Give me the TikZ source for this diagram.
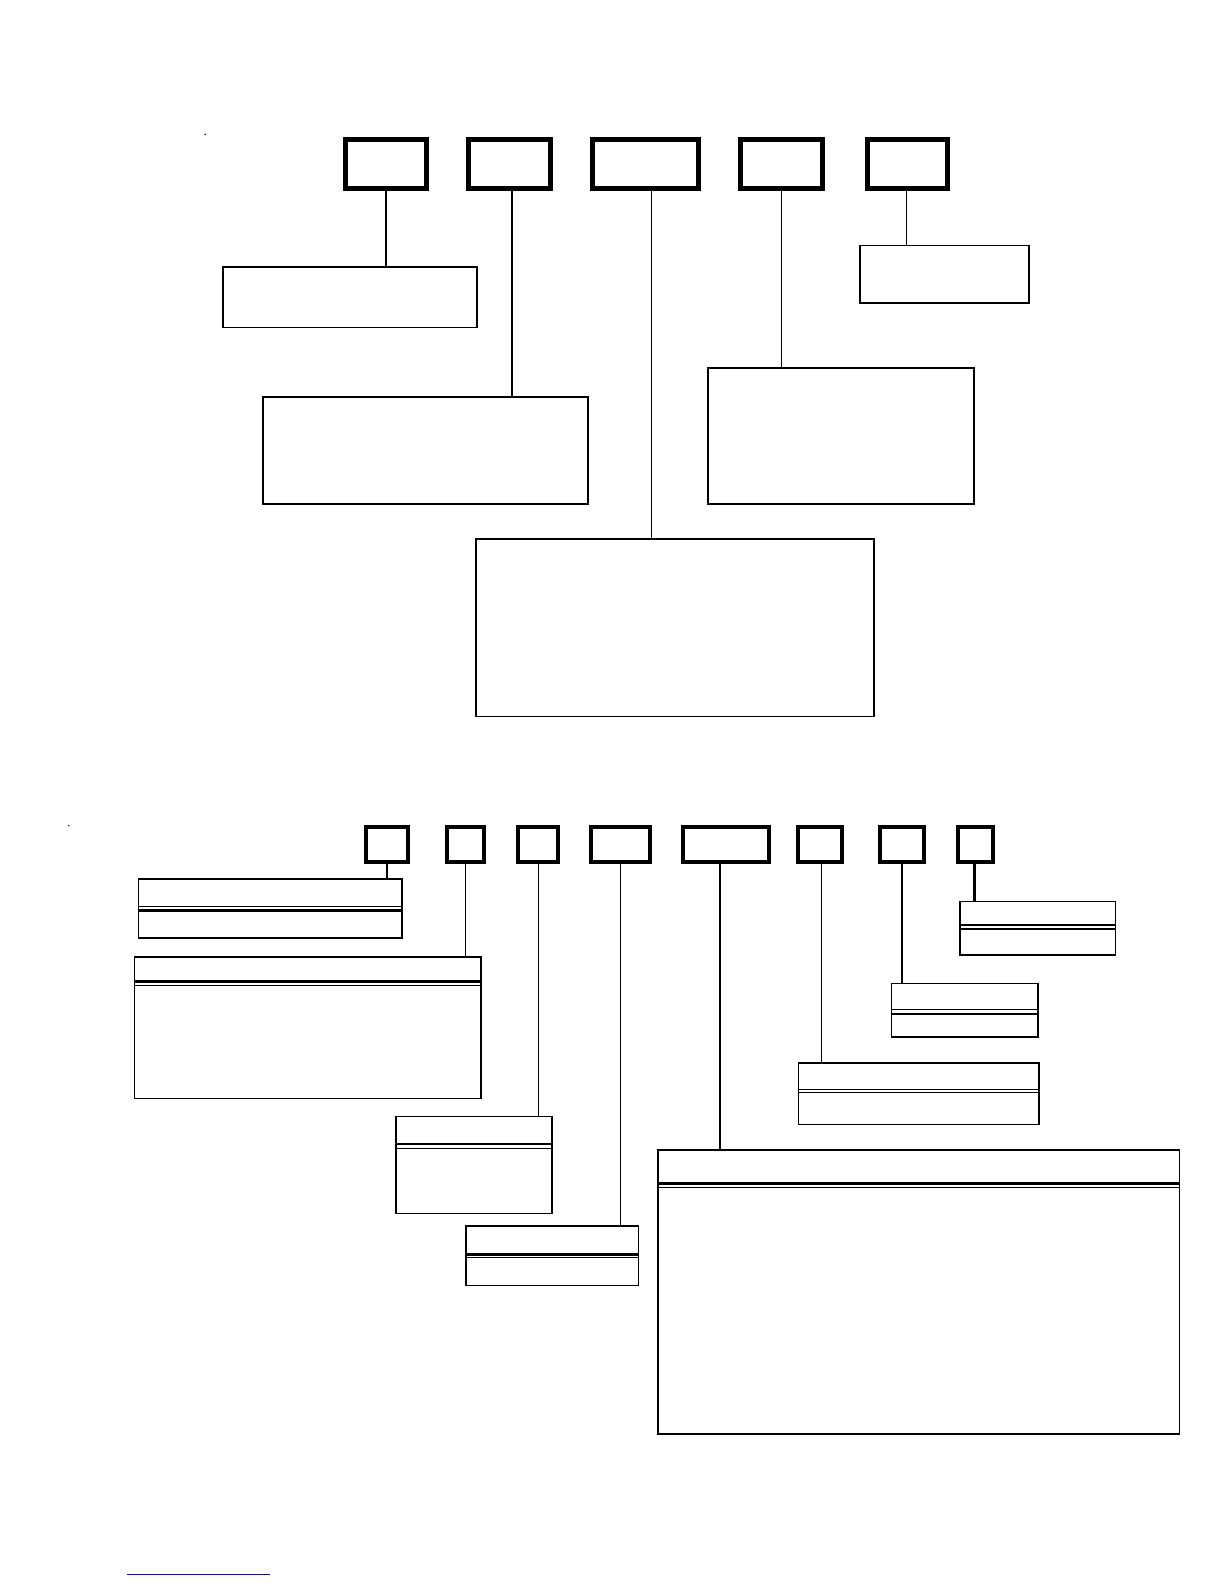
\documentclass[tikz,border=0pt]{standalone}
\usetikzlibrary{fit,calc}
\newcommand\mkbox[6]{\node[#1,fit={(#3,#4) (#5,#6)}] (#2) {};}
\newcommand\mkrule[3]{\draw[#3] ($(#1.north west)+(0,#2)$) -- ($(#1.north east)+(0,#2)$);}
\begin{document}
\begin{tikzpicture}[x=1.0105pt,y=-1.0105pt,
  topbox/.style={draw,line width=5pt,inner sep=0pt},
  smallbox/.style={draw,line width=4pt,inner sep=0pt},
  ibox/.style={draw,line width=1.8pt,inner sep=0pt},
  dbox/.style={draw,line width=1.5pt,inner sep=0pt},
  conn/.style={line width=1.5pt},
  lconn/.style={line width=1.2pt},
  thinrule/.style={line width=1.3pt},
  thickrule/.style={line width=2.6pt}]
\useasboundingbox (0,0) rectangle (1211.3,1567.5);
% dots
\fill (203,133) circle (0.8);
\fill (68,817) circle (0.8);
% ---------- top section ----------
\mkbox{topbox}{b1}{342}{138}{422}{187}
\mkbox{topbox}{b2}{464}{138}{545}{187}
\mkbox{topbox}{b3}{586}{138}{691}{187}
\mkbox{topbox}{b4}{733}{138}{814}{187}
\mkbox{topbox}{b5}{858}{138}{938}{187}
\mkbox{ibox}{l1}{221}{264}{472}{324}
\mkbox{ibox}{l2}{260}{393}{582}{499}
\mkbox{ibox}{l3}{471}{533}{865}{709}
\mkbox{ibox}{l4}{701}{364}{964}{499}
\mkbox{ibox}{l5}{851}{243}{1018}{300}
\coordinate (c2) at ($(b2.south)+(2,0)$);
\coordinate (c3) at ($(b3.south)+(6,0)$);
\coordinate (c5) at ($(b5.south)+(-1,0)$);
\draw[conn] (b1.south) -- (b1.south |- l1.north);
\draw[conn] (c2) -- (c2 |- l2.north);
\draw[conn] (c3) -- (c3 |- l3.north);
\draw[conn] (b4.south) -- (b4.south |- l4.north);
\draw[conn] (c5) -- (c5 |- l5.north);
% ---------- bottom section ----------
\mkbox{smallbox}{s1}{362}{818}{404}{853}
\mkbox{smallbox}{s2}{442}{818}{479}{853}
\mkbox{smallbox}{s3}{513}{818}{552}{853}
\mkbox{smallbox}{s4}{585}{818}{643}{853}
\mkbox{smallbox}{s5}{676}{818}{761}{853}
\mkbox{smallbox}{s6}{790}{818}{833}{853}
\mkbox{smallbox}{s7}{871}{818}{914}{853}
\mkbox{smallbox}{s8}{948}{818}{983}{853}
\mkbox{dbox}{d1}{137}{870}{398}{928}
\mkbox{dbox}{d2}{133}{947}{476}{1087}
\mkbox{dbox}{d3}{392}{1105}{546}{1201}
\mkbox{dbox}{d4}{461}{1213}{632}{1272}
\mkbox{dbox}{d5}{651}{1138}{1167}{1419}
\mkbox{dbox}{d6}{790}{1052}{1028}{1113}
\mkbox{dbox}{d7}{882}{973}{1027}{1026}
\mkbox{dbox}{d8}{950}{892}{1104}{945}
\coordinate (e5) at ($(s5.south)+(-6,0)$);
\coordinate (e6) at ($(s6.south)+(1.5,0)$);
\coordinate (e8) at ($(s8.south)+(-1,0)$);
\draw[lconn] (s1.south) -- (s1.south |- d1.north);
\draw[lconn] (s2.south) -- (s2.south |- d2.north);
\draw[lconn] (s3.south) -- (s3.south |- d3.north);
\draw[lconn] (s4.south) -- (s4.south |- d4.north);
\draw[lconn] (e5) -- (e5 |- d5.north);
\draw[lconn] (e6) -- (e6 |- d6.north);
\draw[lconn] (s7.south) -- (s7.south |- d7.north);
\draw[conn,line width=2.5pt] (e8) -- (e8 |- d8.north);
% double rules
\mkrule{d1}{28}{thinrule}
\mkrule{d1}{32}{thickrule}
\mkrule{d2}{25}{thickrule}
\mkrule{d2}{29}{thinrule}
\mkrule{d3}{28}{thickrule}
\mkrule{d3}{32}{thinrule}
\mkrule{d4}{29}{thickrule}
\mkrule{d4}{32}{thinrule}
\mkrule{d5}{34}{thickrule}
\mkrule{d5}{38}{thinrule}
\mkrule{d6}{27}{thinrule}
\mkrule{d6}{30}{thinrule}
\mkrule{d7}{27}{thinrule}
\mkrule{d7}{31}{thickrule}
\mkrule{d8}{24}{thickrule}
\mkrule{d8}{28}{thinrule}
% blue rule at bottom
\coordinate (bl) at (126,1558);
\coordinate (br) at (267,1558);
\draw[line width=1.8pt,color={rgb,255:red,20;green,20;blue,140}] (bl) -- (br);
\end{tikzpicture}
\end{document}
